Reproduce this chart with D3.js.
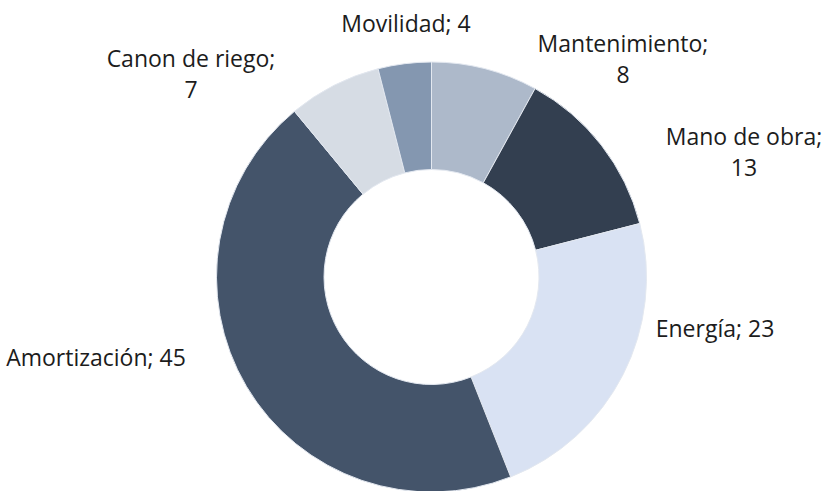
<!DOCTYPE html>
<html>
<head>
<meta charset="utf-8">
<script src="https://cdn.jsdelivr.net/npm/d3@7"></script>
<style>
  body { margin: 0; background: #fff; }
  svg { display: block; }
  text { font-family: "Open Sans", sans-serif; font-size: 23px; fill: #1c1c1c; }
</style>
</head>
<body>
<svg id="chart" width="826" height="491"></svg>
<script>
const categories = ["Mantenimiento", "Mano de obra", "Energía", "Amortización", "Canon de riego", "Movilidad"]
const values = [8, 13, 23, 45, 7, 4]
const colors = ["#adb9ca", "#333f50", "#d9e2f3", "#44546a", "#d6dce4", "#8497b0"]

// where Excel put each data label (centre x, first baseline), and if it wrapped
const labelLayout = [
    {x: 623, y: 52, wrap: true},
    {x: 744, y: 145, wrap: true},
    {x: 715, y: 337, wrap: false},
    {x: 96, y: 366, wrap: false},
    {x: 191, y: 67, wrap: true},
    {x: 406, y: 32, wrap: false}
]

const cx = 431.5, cy = 277, R = 215, r = 107.5
const lineGap = 31

const slices = categories.map(function(c, i){
    return {name: c, value: values[i], color: colors[i], label: labelLayout[i]}
})

const pie = d3.pie()
    .value(function(d){ return d.value })
    .sort(null)

const arc = d3.arc()
    .innerRadius(r)
    .outerRadius(R)

const svg = d3.select('#chart')

svg.append('g')
    .attr('transform', 'translate(' + cx + ',' + cy + ')')
    .selectAll('path')
    .data(pie(slices))
    .join('path')
    .attr('d', arc)
    .attr('fill', function(d){ return d.data.color })
    .attr('stroke', '#e3e8f0')
    .attr('stroke-width', 1)

const labels = svg.append('g')
    .selectAll('text')
    .data(slices)
    .join('text')
    .attr('text-anchor', 'middle')
    .attr('x', function(d){ return d.label.x })
    .attr('y', function(d){ return d.label.y })

labels.each(function(d){
    const t = d3.select(this)
    if (d.label.wrap) {
        t.append('tspan').attr('x', d.label.x).text(d.name + ';')
        t.append('tspan').attr('x', d.label.x).attr('dy', lineGap).text(d.value)
    } else {
        t.text(d.name + '; ' + d.value)
    }
})
</script>
</body>
</html>
